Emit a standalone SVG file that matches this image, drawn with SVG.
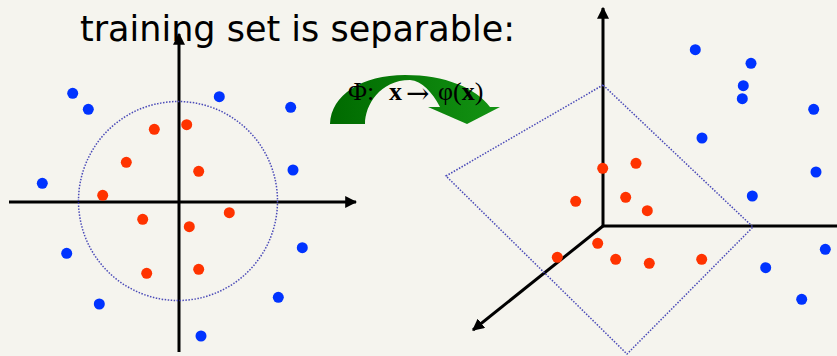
<svg xmlns="http://www.w3.org/2000/svg" width="837" height="356" viewBox="0 0 837 356">
<defs>
<marker id="ah" viewBox="0 0 10 10" refX="9" refY="5" markerWidth="4" markerHeight="4" markerUnits="strokeWidth" orient="auto">
<path d="M0,0 L10,5 L0,10 Z" fill="#000"/>
</marker>
<linearGradient id="gg" x1="0" y1="0" x2="1" y2="0">
<stop offset="0" stop-color="#006a00"/>
<stop offset="1" stop-color="#139313"/>
</linearGradient>
<style>
.ax{stroke:#000;stroke-width:3;fill:none}
.sep{stroke:#4a4ab8;stroke-width:1.5;fill:none;stroke-dasharray:1.5 1.5}
.r{fill:#ff3300}
.b{fill:#0033ff}
.t{font-family:"DejaVu Sans",Verdana,sans-serif;font-size:35px;fill:#000}
.m{font-family:"Liberation Serif","Times New Roman",serif;font-size:26px;fill:#000}
</style>
</defs>
<rect width="837" height="356" fill="#f5f4ee"/>
<text class="t" x="80" y="41">training set is separable:</text>

<g id="connectors">
<line class="ax" x1="179" y1="352" x2="179" y2="34" marker-end="url(#ah)"/>
<line class="ax" x1="9" y1="202" x2="356" y2="202" marker-end="url(#ah)"/>
<line class="ax" x1="603" y1="226" x2="603" y2="8" marker-end="url(#ah)"/>
<line class="ax" x1="603" y1="226" x2="837" y2="226"/>
<line class="ax" x1="603" y1="226" x2="473" y2="330" marker-end="url(#ah)"/>
</g>

<g id="circle-boundary"><circle class="sep" cx="178" cy="201" r="99.5"/></g>
<g id="plane-boundary"><polygon class="sep" points="603,85 446,176 627,354 753,227"/></g>

<g id="left-points">
<circle class="b" cx="72.7" cy="93.3" r="5.5"/>
<circle class="b" cx="88.3" cy="109.3" r="5.5"/>
<circle class="b" cx="219.3" cy="96.7" r="5.5"/>
<circle class="b" cx="290.7" cy="107.3" r="5.5"/>
<circle class="b" cx="293" cy="170" r="5.5"/>
<circle class="b" cx="42.3" cy="183.3" r="5.5"/>
<circle class="b" cx="66.7" cy="253.3" r="5.5"/>
<circle class="b" cx="99.3" cy="304" r="5.5"/>
<circle class="b" cx="302.3" cy="247.7" r="5.5"/>
<circle class="b" cx="278.3" cy="297.3" r="5.5"/>
<circle class="b" cx="201" cy="336" r="5.5"/>
<circle class="r" cx="154.3" cy="129.3" r="5.5"/>
<circle class="r" cx="186.7" cy="124.7" r="5.5"/>
<circle class="r" cx="126.3" cy="162.3" r="5.5"/>
<circle class="r" cx="198.7" cy="171.3" r="5.5"/>
<circle class="r" cx="102.7" cy="195.3" r="5.5"/>
<circle class="r" cx="142.7" cy="219.3" r="5.5"/>
<circle class="r" cx="189.3" cy="226.7" r="5.5"/>
<circle class="r" cx="229.3" cy="212.7" r="5.5"/>
<circle class="r" cx="146.7" cy="273.3" r="5.5"/>
<circle class="r" cx="198.7" cy="269.3" r="5.5"/>
</g>

<g id="right-points">
<circle class="b" cx="695.3" cy="49.7" r="5.5"/>
<circle class="b" cx="751" cy="63.3" r="5.5"/>
<circle class="b" cx="743.3" cy="85.7" r="5.5"/>
<circle class="b" cx="742.3" cy="98.7" r="5.5"/>
<circle class="b" cx="813.7" cy="109.3" r="5.5"/>
<circle class="b" cx="702" cy="138" r="5.5"/>
<circle class="b" cx="816" cy="172" r="5.5"/>
<circle class="b" cx="752.3" cy="196" r="5.5"/>
<circle class="b" cx="825.3" cy="249.3" r="5.5"/>
<circle class="b" cx="765.7" cy="267.7" r="5.5"/>
<circle class="b" cx="801.7" cy="299.3" r="5.5"/>
<circle class="r" cx="602.7" cy="168.3" r="5.5"/>
<circle class="r" cx="636" cy="163.3" r="5.5"/>
<circle class="r" cx="575.7" cy="201.3" r="5.5"/>
<circle class="r" cx="625.7" cy="197.3" r="5.5"/>
<circle class="r" cx="647.3" cy="210.7" r="5.5"/>
<circle class="r" cx="597.7" cy="243.3" r="5.5"/>
<circle class="r" cx="557.3" cy="257.3" r="5.5"/>
<circle class="r" cx="615.7" cy="259.3" r="5.5"/>
<circle class="r" cx="649.3" cy="263.3" r="5.5"/>
<circle class="r" cx="701.7" cy="259.3" r="5.5"/>
</g>

<g id="mapping-arrow">
<path fill="url(#gg)" d="M330,124 C331,95 362,75 405,75 C445,75 476,88 490,107 L500,107 L467,124 L428,107 L440,107 C432,92 422,81 410,80 C380,80 365,105 365,124 Z"/>
<text class="m" x="348" y="100">Φ:</text>
<text class="m" x="389" y="100" font-weight="bold">x</text>
<text x="406" y="103" font-family="DejaVu Serif, serif" font-size="28">→</text>
<text class="m" x="438" y="100">φ(<tspan font-weight="bold">x</tspan>)</text>
</g>
</svg>
